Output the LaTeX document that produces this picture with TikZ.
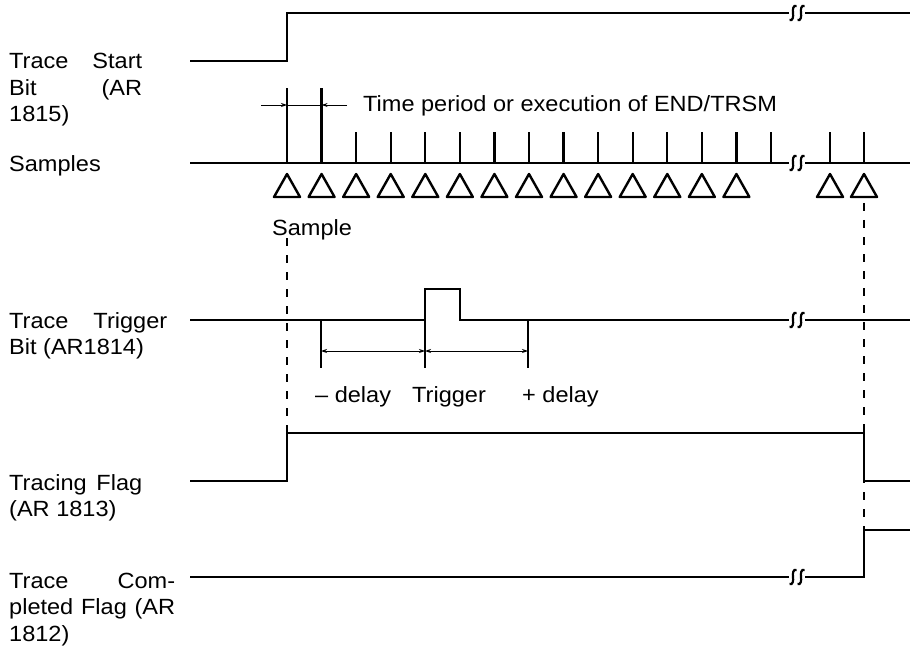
\documentclass[tikz,border=0pt]{standalone}
\usepackage{fontspec}
\setmainfont[FakeStretch=1.07]{Liberation Sans}
\usetikzlibrary{arrows.meta}
\tikzset{
  sig/.style={line width=2.3pt, line join=miter},
  tickln/.style={line width=2.3pt},
  dimln/.style={line width=0.9pt},
  dimarr/.style={dimln, -{Stealth[length=6pt,width=4pt]}},
  dimboth/.style={dimln, {Stealth[length=6pt,width=4pt]}-{Stealth[length=6pt,width=4pt]}},
  guide/.style={line width=2pt, dash pattern=on 8pt off 9pt},
  tri/.style={line width=2.4pt, line join=round},
  lbl/.style={inner sep=0, anchor=base west, font=\fontsize{22}{26.5}\selectfont},
  brk/.pic={
    \fill[white] (-8,-4) rectangle (8,4);
    \foreach \q in {-4,4}{
      \draw[line width=2.2pt] (\q+3.5,-7) .. controls (\q,-8.5) and (\q-0.5,-3) .. (\q,0)
        .. controls (\q+0.5,3) and (\q,8.5) .. (\q-3.5,7);
    }
  }
}
\begin{document}
\begin{tikzpicture}[x=1pt,y=-1pt]
\useasboundingbox (0,0) rectangle (910,647);

% ---- labels ----
\node[lbl] (lts) at (9,69) {\parbox[t]{170pt}{\makebox[133pt]{Trace\hfill Start}\\\makebox[133pt]{Bit\hfill (AR}\\1815)}};
\node[lbl] (lsa) at (9,172) {Samples};
\node[lbl] (ltt) at (9,328) {\parbox[t]{170pt}{\makebox[158pt]{Trace\hfill Trigger}\\Bit (AR1814)}};
\node[lbl] (ltf) at (9,490) {\parbox[t]{170pt}{\makebox[133pt]{Tracing\hfill Flag}\\(AR 1813)}};
\node[lbl] (ltc) at (9,588) {\parbox[t]{180pt}{\makebox[166pt]{Trace\hfill Com-}\\\makebox[166pt]{pleted\hfill Flag\hfill (AR}\\1812)}};

% ---- Trace Start Bit ----
\draw[sig] (190,61) -- (287,61) -- (287,13) -- (910,13);
\pic at (797,13) {brk};

% ---- Samples ----
\draw[sig] (190,163) -- (910,163);
\draw[tickln] (287,163) -- (287,88);
\draw[tickln] (321.6,163) -- (321.6,88);
\foreach \k in {2,...,14}{
  \draw[tickln] ({287+34.57*\k},163) -- ({287+34.57*\k},132);
}
\foreach \x in {830,864}{
  \draw[tickln] (\x,163) -- (\x,132);
}
\pic at (797,163) {brk};
\foreach \k in {0,...,13}{
  \draw[tri] ({287+34.57*\k-13},197) -- ({287+34.57*\k},174) -- ({287+34.57*\k+13},197) -- cycle;
}
\foreach \x in {830,864}{
  \draw[tri] (\x-13,197) -- (\x,174) -- (\x+13,197) -- cycle;
}
% time period dimension
\coordinate (tp1) at (287,105);
\coordinate (tp2) at (321.6,105);
\draw[dimarr] (261,105) -- (tp1);
\draw[dimarr] (347,105) -- (tp2);
\draw[dimln] (tp1) -- (tp2);
\node[lbl] (ltp) at (363,112) {Time period or execution of END/TRSM};
\node[lbl] (lsm) at (272,235) {Sample};

% ---- Trace Trigger Bit ----
\draw[sig] (190,320) -- (425,320) -- (425,289) -- (460,289) -- (460,320) -- (910,320);
\pic at (797,320) {brk};
\draw[tickln] (321,320) -- (321,368);
\draw[tickln] (425,320) -- (425,368);
\draw[tickln] (528,320) -- (528,368);
\coordinate (d1) at (321,351);
\coordinate (d2) at (425,351);
\coordinate (d3) at (528,351);
\draw[dimboth] (d1) -- (d2);
\draw[dimboth] (d2) -- (d3);
\node[lbl] (lmd) at (315,402) {– delay};
\node[lbl] (ltr) at (412,402) {Trigger};
\node[lbl] (lpd) at (522,402) {+ delay};

% ---- Tracing Flag ----
\draw[sig] (190,481) -- (287,481) -- (287,433) -- (864,433) -- (864,481) -- (910,481);

% ---- Trace Completed Flag ----
\draw[sig] (190,577) -- (864,577) -- (864,530) -- (910,530);
\pic at (797,577) {brk};

% ---- guide lines ----
\draw[guide] (287,238) -- (287,433);
\draw[guide] (864,203) -- (864,530);
\end{tikzpicture}
\end{document}
